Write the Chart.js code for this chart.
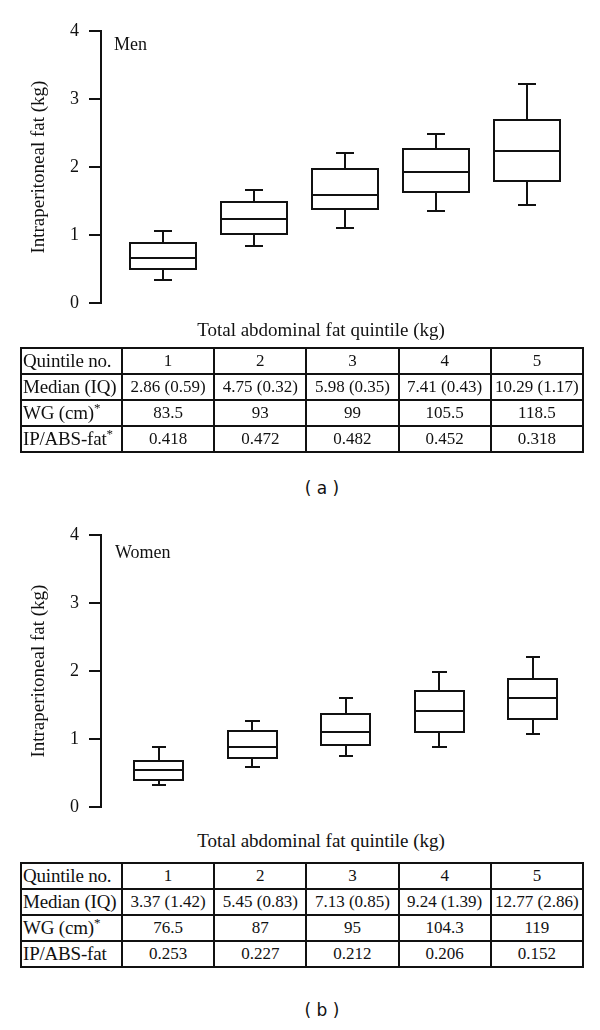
<!DOCTYPE html>
<html>
<head>
<meta charset="utf-8">
<script src="https://cdn.jsdelivr.net/npm/chart.js@4.4.1/dist/chart.umd.min.js"></script>
<style>
    body { margin: 0; background: #fff; }
    #page { position: relative; width: 600px; height: 1030px; font-family: 'Liberation Serif', serif; color: #111; }
    canvas { position: absolute; left: 0; }
    .xtitle { position: absolute; left: 21px; width: 600px; text-align: center; font-size: 19px; line-height: 24px; }
    .group { position: absolute; font-size: 18px; line-height: 24px; }
    .panel { position: absolute; left: 0; width: 644px; text-align: center; font-family: 'DejaVu Sans', sans-serif; font-size: 17px; line-height: 24px; }
    table { position: absolute; left: 20px; width: 564px; table-layout: fixed; border-collapse: collapse; font-size: 17px; }
    td { border: 2px solid #111; height: 24px; padding: 0; text-align: center; white-space: nowrap; line-height: 22px; }
    td:first-child { text-align: left; padding-left: 1px; font-size: 19px; letter-spacing: -0.2px; }
    sup { font-size: 13px; line-height: 0; vertical-align: 7px; }
</style>
</head>
<body>
<div id="page">
    <canvas id="men-chart" width="600" height="324" style="top:0"></canvas>
    <div class="group" style="top:32px;left:114px">Men</div>
    <div class="xtitle" style="top:318px">Total abdominal fat quintile (kg)</div>
    <table id="men-table" style="top:347px"></table>
    <div class="panel" style="top:476px">(&nbsp;a&nbsp;)</div>

    <canvas id="women-chart" width="600" height="324" style="top:504px"></canvas>
    <div class="group" style="top:540px;left:115px">Women</div>
    <div class="xtitle" style="top:829px">Total abdominal fat quintile (kg)</div>
    <table id="women-table" style="top:862px"></table>
    <div class="panel" style="top:998px">(&nbsp;b&nbsp;)</div>
</div>
<script>
// Quintiles
const quintiles = [1, 2, 3, 4, 5];

// Men - intraperitoneal fat (kg), box plot values
const menMin    = [0.34, 0.84, 1.11, 1.36, 1.44];
const menQ1     = [0.50, 1.02, 1.38, 1.63, 1.79];
const menMedian = [0.67, 1.24, 1.59, 1.93, 2.23];
const menQ3     = [0.89, 1.48, 1.97, 2.26, 2.69];
const menMax    = [1.06, 1.66, 2.21, 2.48, 3.22];

// Women - intraperitoneal fat (kg), box plot values
const womenMin    = [0.32, 0.59, 0.75, 0.88, 1.08];
const womenQ1     = [0.40, 0.72, 0.92, 1.10, 1.30];
const womenMedian = [0.55, 0.88, 1.11, 1.41, 1.61];
const womenQ3     = [0.68, 1.12, 1.37, 1.71, 1.89];
const womenMax    = [0.88, 1.27, 1.61, 1.98, 2.21];

// Y axis ticks
const yTicks = [0, 1, 2, 3, 4];

// Table values
const menMedianIQ = ['2.86 (0.59)', '4.75 (0.32)', '5.98 (0.35)', '7.41 (0.43)', '10.29 (1.17)'];
const menWG       = ['83.5', '93', '99', '105.5', '118.5'];
const menRatio    = ['0.418', '0.472', '0.482', '0.452', '0.318'];

const womenMedianIQ = ['3.37 (1.42)', '5.45 (0.83)', '7.13 (0.85)', '9.24 (1.39)', '12.77 (2.86)'];
const womenWG       = ['76.5', '87', '95', '104.3', '119'];
const womenRatio    = ['0.253', '0.227', '0.212', '0.206', '0.152'];

const SERIF = "'Liberation Serif', 'Times New Roman', serif";
const INK = '#111';

// draws box + whiskers for every point of dataset 0 through the chart scales
const boxPlotPlugin = {
    id: 'boxPlot',
    afterDatasetsDraw(chart, args, opts) {
        const { ctx } = chart;
        const xs = chart.scales.x;
        const ys = chart.scales.y;
        const rows = chart.data.datasets[0].data;

        ctx.save();
        ctx.strokeStyle = INK;
        ctx.lineWidth = 2;
        rows.forEach(r => {
            const xc = Math.round(xs.getPixelForValue(r.x));
            const xl = Math.round(xs.getPixelForValue(r.x - opts.boxHalf));
            const xr = Math.round(xs.getPixelForValue(r.x + opts.boxHalf));
            const cl = Math.round(xs.getPixelForValue(r.x - opts.capHalf));
            const cr = Math.round(xs.getPixelForValue(r.x + opts.capHalf));
            const yMin = Math.round(ys.getPixelForValue(r.min));
            const yQ1 = Math.round(ys.getPixelForValue(r.q1));
            const yMed = Math.round(ys.getPixelForValue(r.median));
            const yQ3 = Math.round(ys.getPixelForValue(r.q3));
            const yMax = Math.round(ys.getPixelForValue(r.max));

            ctx.beginPath();
            // whiskers
            ctx.moveTo(xc, yQ3); ctx.lineTo(xc, yMax);
            ctx.moveTo(xc, yQ1); ctx.lineTo(xc, yMin);
            // caps
            ctx.moveTo(cl, yMax); ctx.lineTo(cr, yMax);
            ctx.moveTo(cl, yMin); ctx.lineTo(cr, yMin);
            // median
            ctx.moveTo(xl, yMed); ctx.lineTo(xr, yMed);
            ctx.stroke();
            ctx.strokeRect(xl, yQ3, xr - xl, yQ1 - yQ3);
        });
        ctx.restore();
    }
};

function buildRows(mins, q1s, meds, q3s, maxs) {
    return quintiles.map((q, i) => ({
        x: q, y: meds[i],
        min: mins[i], q1: q1s[i], median: meds[i], q3: q3s[i], max: maxs[i]
    }));
}

function makeBoxChart(canvasId, rows, xMin, xMax, boxHalf, capHalf) {
    return new Chart(document.getElementById(canvasId), {
        type: 'scatter',
        data: {
            datasets: [{
                data: rows,
                pointRadius: 0,
                showLine: false
            }]
        },
        options: {
            responsive: false,
            animation: false,
            layout: { padding: { top: 31, bottom: 10, left: 0, right: 9 } },
            plugins: {
                legend: { display: false },
                tooltip: { enabled: false },
                boxPlot: { boxHalf: boxHalf, capHalf: capHalf }
            },
            scales: {
                x: { type: 'linear', display: false, min: xMin, max: xMax },
                y: {
                    min: yTicks[0],
                    max: yTicks[yTicks.length - 1],
                    afterBuildTicks: axis => { axis.ticks = yTicks.map(v => ({ value: v })); },
                    afterFit: axis => { axis.width = 101; },
                    ticks: {
                        color: INK,
                        padding: 10,
                        font: { family: SERIF, size: 18 }
                    },
                    grid: {
                        drawOnChartArea: false,
                        drawTicks: true,
                        tickLength: 12,
                        color: INK,
                        lineWidth: 2
                    },
                    border: { color: INK, width: 2 },
                    title: {
                        display: true,
                        text: 'Intraperitoneal fat (kg)',
                        color: INK,
                        font: { family: SERIF, size: 19 },
                        padding: { top: 28, bottom: 0 }
                    }
                }
            }
        },
        plugins: [boxPlotPlugin]
    });
}

function fillTable(tableId, medianIQ, wg, ratio, wgLabel, ratioLabel) {
    const table = document.getElementById(tableId);
    let html = '<colgroup><col style="width:101px">' + quintiles.map(() => '<col>').join('') + '</colgroup>';
    const row = (label, values) => '<tr><td>' + label + '</td>' + values.map(v => '<td>' + v + '</td>').join('') + '</tr>';
    html += row('Quintile no.', quintiles);
    html += row('Median (IQ)', medianIQ);
    html += row(wgLabel, wg);
    html += row(ratioLabel, ratio);
    table.innerHTML = html;
}

makeBoxChart('men-chart', buildRows(menMin, menQ1, menMedian, menQ3, menMax), 0.321, 5.7, 0.36, 0.1);
makeBoxChart('women-chart', buildRows(womenMin, womenQ1, womenMedian, womenQ3, womenMax), 0.381, 5.622, 0.262, 0.078);

fillTable('men-table', menMedianIQ, menWG, menRatio, 'WG (cm)<sup>*</sup>', 'IP/ABS-fat<sup>*</sup>');
fillTable('women-table', womenMedianIQ, womenWG, womenRatio, 'WG (cm)<sup>*</sup>', 'IP/ABS-fat');
</script>
</body>
</html>
